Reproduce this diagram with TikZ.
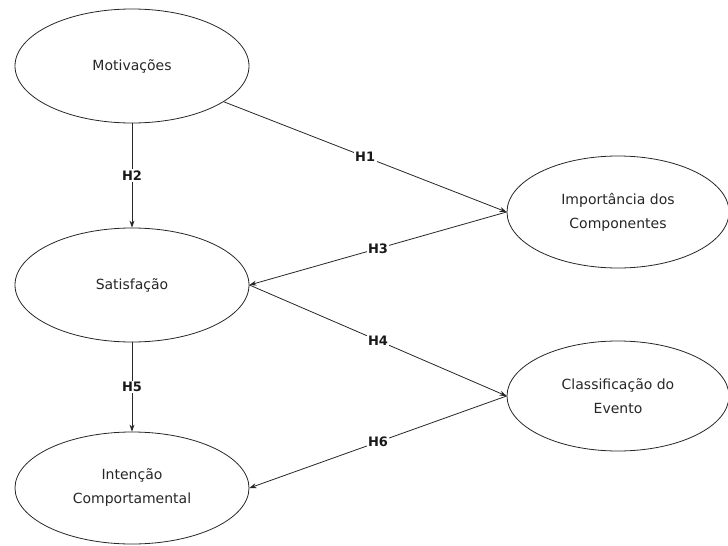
\documentclass[tikz,border=0pt]{standalone}
\usepackage{fontspec}
\setmainfont{DejaVu Sans}
\usetikzlibrary{shapes.geometric,arrows.meta}
\begin{document}
\begin{tikzpicture}[x=1pt,y=-1pt,
  construct/.style={ellipse,draw=black!85,line width=0.8pt,inner sep=0pt,
    align=center,font=\fontsize{14}{24}\selectfont,text=black!85},
  link/.style={draw=black!85,line width=0.8pt,-{Stealth[length=7pt,width=5pt]}},
  hyp/.style={fill=white,inner sep=1.5pt,font=\bfseries\fontsize{13}{15}\selectfont,text=black!90}]
\useasboundingbox (0,0) rectangle (728,546);
\node[construct,minimum width=234pt,minimum height=114pt] (mot) at (132,66) {Motivações};
\node[construct,minimum width=234pt,minimum height=114pt] (sat) at (132,285) {Satisfação};
\node[construct,minimum width=234pt,minimum height=112pt] (int) at (132,488) {Intenção\\Comportamental};
\node[construct,minimum width=222pt,minimum height=112pt] (imp) at (618,212) {Importância dos\\Componentes};
\node[construct,minimum width=222pt,minimum height=110pt] (cls) at (618,396) {Classificação do\\Evento};
\draw[link] (mot) -- node[midway,hyp] {H1} (imp.west);
\draw[link] (mot.south) -- node[midway,hyp] {H2} (sat.north);
\draw[link] (imp.west) -- node[midway,hyp] {H3} (sat.east);
\draw[link] (sat.east) -- node[midway,hyp] {H4} (cls.west);
\draw[link] (sat.south) -- node[midway,hyp] {H5} (int.north);
\draw[link] (cls.west) -- node[midway,hyp] {H6} (int.east);
\end{tikzpicture}
\end{document}
